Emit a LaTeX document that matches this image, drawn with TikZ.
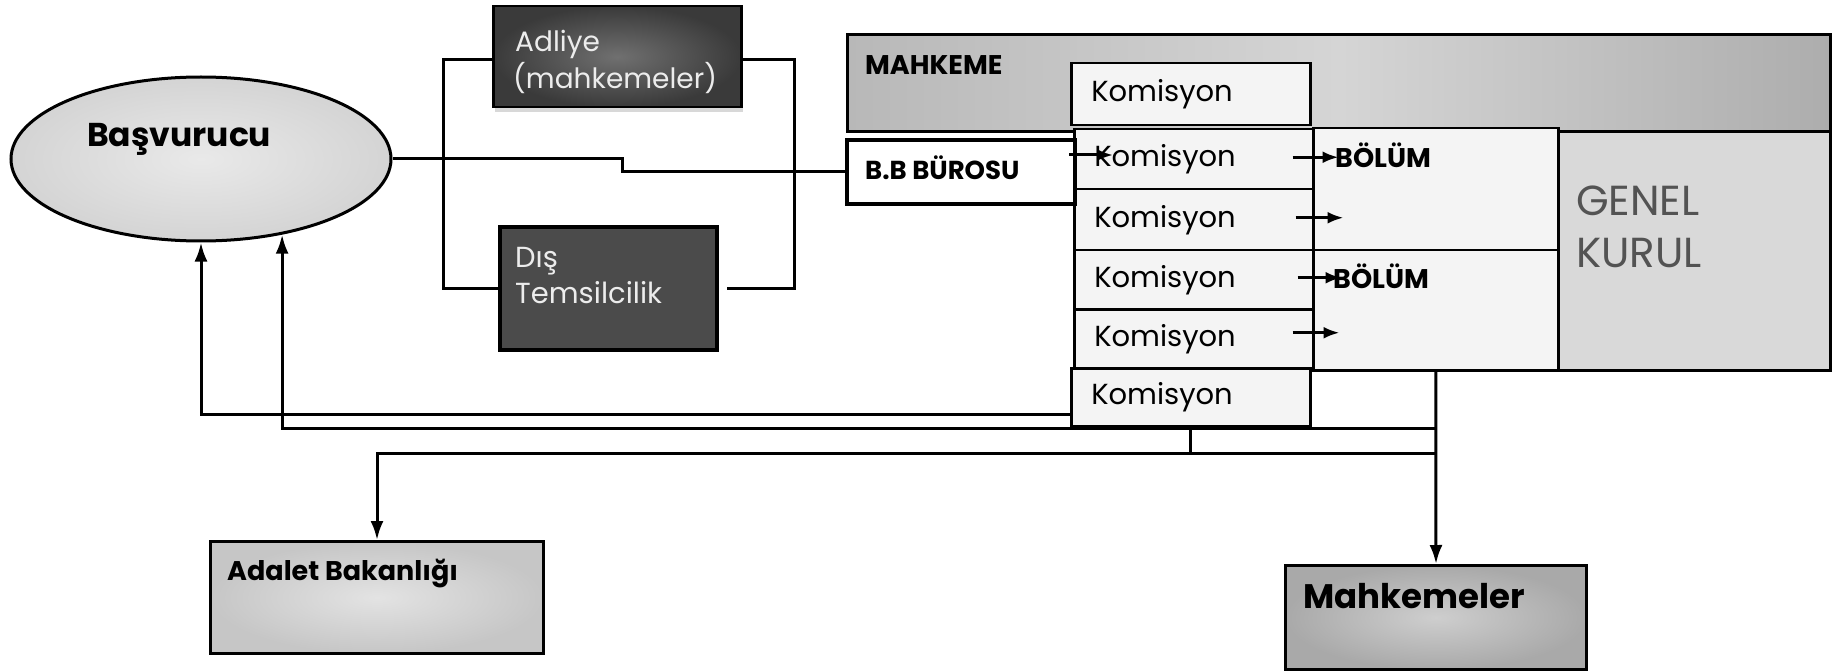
\documentclass[tikz,border=0pt]{standalone}
\usepackage{fontspec}
\setmainfont{Poppins}
\usetikzlibrary{shapes.geometric,arrows.meta,shadows}

\definecolor{ellin}{HTML}{E9E9E9}
\definecolor{ellout}{HTML}{D4D4D4}
\definecolor{adlin}{HTML}{707070}
\definecolor{adlout}{HTML}{3A3A3A}
\definecolor{disfill}{HTML}{4B4B4B}
\definecolor{mahleft}{HTML}{B8B8B8}
\definecolor{mahmid}{HTML}{D5D5D5}
\definecolor{mahright}{HTML}{ADADAD}
\definecolor{komfill}{HTML}{F4F4F4}
\definecolor{gkfill}{HTML}{D9D9D9}
\definecolor{adain}{HTML}{E3E3E3}
\definecolor{adaout}{HTML}{C6C6C6}
\definecolor{mhkin}{HTML}{CECECE}
\definecolor{mhkout}{HTML}{A9A9A9}

\newcommand{\fs}[1]{\fontsize{#1}{#1}\selectfont}

\tikzset{
  box/.style={draw=black,line width=2.5pt,inner sep=0pt,anchor=north west},
  kom/.style={box,fill=komfill,line width=2.5pt,inner xsep=20pt,text width=199pt,
    minimum height=59pt,align=left,font=\fs{29}},
  txt/.style={anchor=base west,inner sep=0pt,font=\fs{29}},
  btxt/.style={anchor=base west,inner sep=0pt,font=\fs{27}\bfseries},
  conn/.style={draw=black,line width=3pt},
  arr/.style={conn,-{Latex[length=19pt,width=13pt]}},
  sarr/.style={conn,-{Latex[length=16pt,width=12pt]}}
}

\begin{document}
\begin{tikzpicture}[x=1pt,y=-1pt]
  \fill[white] (0,0) rectangle (1834,671);

  % left side
  \node[ellipse,draw=black,line width=3pt,minimum width=380pt,minimum height=164pt,
    inner color=ellin,outer color=ellout] (bas) at (201,159) {};
  \node[btxt,font=\fs{33}\bfseries] (basT) at (87,147) {Başvurucu};

  \node[box,minimum width=248pt,minimum height=101pt,inner color=adlin,outer color=adlout,
    drop shadow={opacity=0.3,shadow xshift=2pt,shadow yshift=-5pt}] (adl) at (492,5) {};
  \node[txt,text=gray!15,font=\fs{28}] (adlT1) at (515,52) {Adliye};
  \node[txt,text=gray!15,font=\fs{28}] (adlT2) at (513,89) {(mahkemeler)};

  \node[box,fill=disfill,line width=4pt,minimum width=217pt,minimum height=123pt] (dis) at (498,225) {};
  \node[txt,text=gray!15] (disT1) at (515,268) {Dış};
  \node[txt,text=gray!15] (disT2) at (515,303) {Temsilcilik};

  % mahkeme block
  \node[box,line width=3pt,minimum width=983pt,minimum height=97pt,left color=mahleft,right color=mahright,
    middle color=mahmid] (mah) at (846,33) {};
  \node[btxt] (mahT) at (865,75) {MAHKEME};
  \node[kom,minimum height=62pt] (kt) at (1070,62) {Komisyon};

  \node[box,fill=gkfill,line width=3pt,minimum width=272pt,minimum height=239pt] (gk) at (1557,130) {};
  \node[txt,text=gray!65!black,font=\fs{42}] (gkT1) at (1576,215) {GENEL};
  \node[txt,text=gray!65!black,font=\fs{42}] (gkT2) at (1576,267) {KURUL};

  \node[box,fill=komfill,minimum width=245pt,minimum height=122pt] (bol1) at (1312,127) {};
  \node[box,fill=komfill,minimum width=245pt,minimum height=120pt] (bol2) at (1312,249) {};

  \node[kom,minimum height=60pt] (k1) at (1073,128) {Komisyon};
  \node[kom,minimum height=61pt] (k2) at (1073,188) {Komisyon};
  \node[kom,minimum height=59pt] (k3) at (1073,249) {Komisyon};
  \node[kom,minimum height=59pt] (k4) at (1073,308) {Komisyon};
  \node[kom,minimum height=58pt] (kb) at (1070,367) {Komisyon};

  \node[box,fill=white,line width=4pt,minimum width=228pt,minimum height=64pt] (bb) at (845,138) {};
  \node[btxt,font=\fs{26}\bfseries] (bbT) at (865,180) {B.B BÜROSU};

  \node[btxt] (bolT1) at (1335,168) {BÖLÜM};
  \node[btxt] (bolT2) at (1333,288) {BÖLÜM};

  % bottom boxes
  \node[box,line width=3pt,minimum width=333pt,minimum height=112pt,inner color=adain,outer color=adaout] (ada) at (209,540) {};
  \node[btxt] (adaT) at (227,580) {Adalet Bakanlığı};
  \node[box,line width=3pt,minimum width=301pt,minimum height=104pt,inner color=mhkin,outer color=mhkout] (mhk) at (1284,564) {};
  \node[btxt,font=\fs{34}\bfseries] (mhkT) at (1303,608) {Mahkemeler};

  \coordinate (j1) at (1436,428);
  \coordinate (j2) at (1436,453);

  % connectors
  \draw[conn] (bas.east) -- ++(230,0) |- (bb.west);
  \draw[conn] ([yshift=-3pt]adl.west) -- ++(-49,0) |- (dis.west);
  \draw[conn] ([yshift=-3pt]adl.east) -- ++(52,0) |- ([xshift=8pt]dis.east);

  \draw[sarr] ([xshift=-8pt,yshift=17pt]bb.east) -- ++(44,0);
  \draw[sarr] ([xshift=-22pt,yshift=2pt]k1.east) -- ++(46,0);
  \draw[sarr] ([xshift=-19pt,yshift=2pt]k2.east) -- ++(48,0);
  \draw[sarr] ([xshift=-17pt,yshift=2pt]k3.east) -- ++(44,0);
  \draw[sarr] ([xshift=-22pt,yshift=6pt]k4.east) -- ++(47,0);

  \draw[arr] (bol2.south) -- (mhk.north);
  \draw[arr] (j1) -| (bas.-43);
  \draw[arr] (j2) -| (ada.north);
  \draw[conn] (kb.south) -- (kb.south |- j2);
  \draw[arr] ([yshift=-17pt]kb.west) -| (bas.south);
\end{tikzpicture}
\end{document}
